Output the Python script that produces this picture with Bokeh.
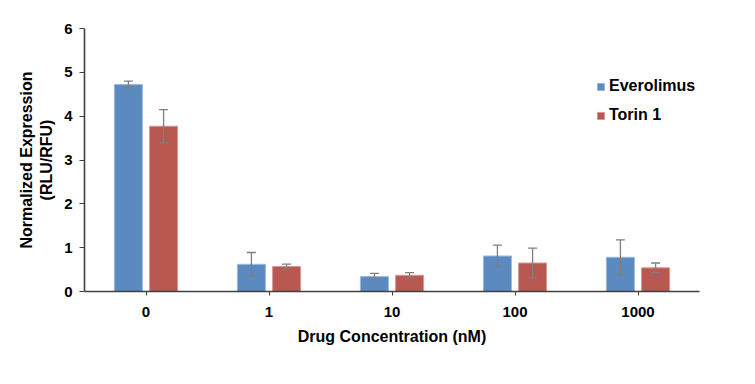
import numpy as np
from bokeh.plotting import figure
from bokeh.models import (ColumnDataSource, Range1d, FixedTicker, Whisker, TeeHead,
                          Legend, LegendItem)
from bokeh.embed import file_html
from bokeh.resources import INLINE

categories = ["0", "1", "10", "100", "1000"]
everolimus = [4.72, 0.62, 0.34, 0.81, 0.78]
everolimus_err = [0.08, 0.27, 0.075, 0.25, 0.40]
torin = [3.77, 0.57, 0.37, 0.65, 0.54]
torin_err = [0.38, 0.055, 0.06, 0.34, 0.11]
y_ticks = [0, 1, 2, 3, 4, 5, 6]

FONT = "Liberation Sans"
BLUE = "#5A8ABF"
RED = "#B95850"
ERR = "#7F7F7F"

centers = np.arange(len(categories)) + 0.5
off = 0.143
bw = 0.228

p = figure(width=740, height=368, output_backend="svg", toolbar_location=None,
           x_range=Range1d(0, 5), y_range=Range1d(0, 6),
           min_border_left=84, min_border_top=28, min_border_bottom=77, min_border_right=41)
p.outline_line_color = None
p.xgrid.grid_line_color = None
p.ygrid.grid_line_color = None

src_e = ColumnDataSource(dict(x=centers - off, top=everolimus,
                              up=np.array(everolimus) + np.array(everolimus_err),
                              lo=np.array(everolimus) - np.array(everolimus_err)))
src_t = ColumnDataSource(dict(x=centers + off, top=torin,
                              up=np.array(torin) + np.array(torin_err),
                              lo=np.array(torin) - np.array(torin_err)))

r_e = p.vbar(x="x", top="top", width=bw, bottom=0, source=src_e,
             fill_color=BLUE, line_color="#9DB8DA", line_width=1)
r_t = p.vbar(x="x", top="top", width=bw, bottom=0, source=src_t,
             fill_color=RED, line_color="#D49A97", line_width=1)

for src in (src_e, src_t):
    w = Whisker(source=src, base="x", upper="up", lower="lo", level="overlay",
                line_color=ERR, line_width=1.3,
                upper_head=TeeHead(size=9, line_color=ERR, line_width=1.3),
                lower_head=TeeHead(size=9, line_color=ERR, line_width=1.3))
    p.add_layout(w)

# axes
p.xaxis.ticker = FixedTicker(ticks=list(centers))
p.xaxis.major_label_overrides = {float(c): cat for c, cat in zip(centers, categories)}
p.xaxis.minor_tick_line_color = None
p.xaxis.major_tick_out = 4
p.xaxis.major_tick_in = 0
p.xaxis.axis_line_color = "#404040"
p.xaxis.axis_line_width = 1.6
p.xaxis.major_tick_line_color = "#404040"
p.xaxis.major_label_text_font = FONT
p.xaxis.major_label_text_font_style = "bold"
p.xaxis.major_label_text_font_size = "15px"
p.xaxis.major_label_text_color = "black"
p.xaxis.major_label_standoff = 11
p.xaxis.axis_label = "Drug Concentration (nM)"
p.xaxis.axis_label_text_font = FONT
p.xaxis.axis_label_text_font_style = "bold"
p.xaxis.axis_label_text_font_size = "16px"
p.xaxis.axis_label_text_color = "black"
p.xaxis.axis_label_standoff = 8

p.yaxis.ticker = FixedTicker(ticks=y_ticks)
p.yaxis.minor_tick_line_color = None
p.yaxis.major_tick_out = 5
p.yaxis.major_tick_in = 0
p.yaxis.axis_line_color = "#404040"
p.yaxis.axis_line_width = 1.6
p.yaxis.major_tick_line_color = "#404040"
p.yaxis.major_label_text_font = FONT
p.yaxis.major_label_text_font_style = "bold"
p.yaxis.major_label_text_font_size = "15px"
p.yaxis.major_label_text_color = "black"
p.yaxis.major_label_standoff = 7
p.yaxis.axis_label = "Normalized Expression\n(RLU/RFU)"
p.yaxis.axis_label_text_font = FONT
p.yaxis.axis_label_text_font_style = "bold"
p.yaxis.axis_label_text_font_size = "16px"
p.yaxis.axis_label_text_color = "black"
p.yaxis.axis_label_standoff = 6

legend = Legend(items=[LegendItem(label="Everolimus", renderers=[r_e]),
                       LegendItem(label="Torin 1", renderers=[r_t])],
                location=(512, 166))
legend.border_line_color = None
legend.background_fill_alpha = 0
legend.padding = 0
legend.margin = 0
legend.glyph_width = 9
legend.glyph_height = 9
legend.label_height = 20
legend.spacing = 9
legend.label_standoff = 4
legend.label_text_font = FONT
legend.label_text_font_style = "bold"
legend.label_text_font_size = "16px"
legend.label_text_color = "black"
p.add_layout(legend)

open("out.html", "w").write(file_html(p, INLINE))
